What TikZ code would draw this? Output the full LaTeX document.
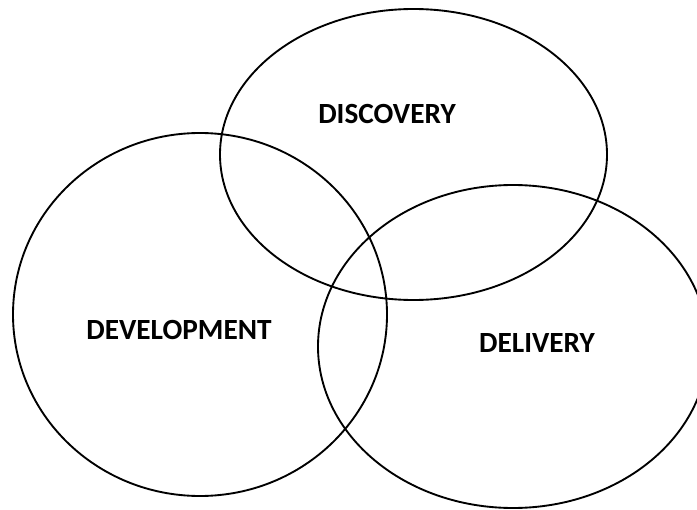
\documentclass[tikz,border=0pt]{standalone}
\usepackage{fontspec}
\setmainfont{Carlito}

\tikzset{
  ring/.style={draw=black,line width=1.6pt},
  tag/.style={font=\fontsize{25}{30}\selectfont\bfseries}
}

\begin{document}
\begin{tikzpicture}[x=0.03cm,y=-0.03cm]
			\useasboundingbox (0,0) rectangle (697,510);
			\clip (0,0) rectangle (697,510);

			\draw[ring] (413.5,154.5) ellipse [x radius=193.5, y radius=145.5];
			\draw[ring] (200,314.5) ellipse [x radius=187, y radius=181.5];
			\draw[ring] (513,346.5) ellipse [x radius=195, y radius=161.5];

			\node[tag] (discovery) at (387,114) {DISCOVERY};
			\node[tag] (development) at (179,330) {DEVELOPMENT};
			\node[tag] (delivery) at (537,343) {DELIVERY};
		\end{tikzpicture}
\end{document}
